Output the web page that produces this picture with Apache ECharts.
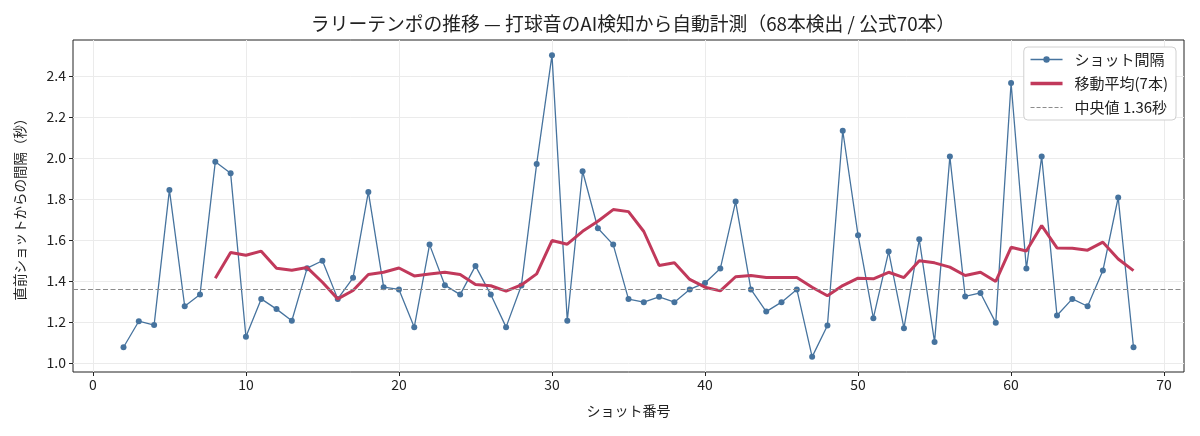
<!DOCTYPE html>
<html>
<head>
<meta charset="utf-8">
<script src="https://cdn.jsdelivr.net/npm/echarts@6/dist/echarts.min.js"></script>
<style>
  html, body { margin: 0; padding: 0; background: #fff; }
  #main { width: 1200px; height: 436px; }
</style>
</head>
<body>
<div id="main"></div>
<script>
// shot number -> interval since previous shot (s)
var shots = [2, 3, 4, 5, 6, 7, 8, 9, 10, 11, 12, 13, 14, 15, 16, 17, 18, 19, 20, 21, 22, 23, 24, 25, 26, 27, 28, 29, 30, 31, 32, 33, 34, 35,
  36, 37, 38, 39, 40, 41, 42, 43, 44, 45, 46, 47, 48, 49, 50, 51, 52, 53, 54, 55, 56, 57, 58, 59, 60, 61, 62, 63, 64, 65, 66, 67, 68];
var intervals = [1.076, 1.203, 1.184, 1.844, 1.276, 1.333, 1.982, 1.925, 1.127, 1.312, 1.262, 1.205, 1.462, 1.498, 1.312, 1.415, 1.834,
  1.369, 1.358, 1.174, 1.577, 1.379, 1.333, 1.473, 1.333, 1.174, 1.377, 1.971, 2.502, 1.205, 1.935, 1.657, 1.577, 1.311,
  1.296, 1.322, 1.296, 1.358, 1.390, 1.460, 1.787, 1.358, 1.250, 1.296, 1.358, 1.029, 1.182, 2.133, 1.623, 1.218, 1.543,
  1.169, 1.603, 1.101, 2.007, 1.324, 1.341, 1.195, 2.366, 1.460, 2.007, 1.231, 1.312, 1.276, 1.450, 1.807, 1.076];

// 7-shot moving average, shots 8..68
var maShots = [8, 9, 10, 11, 12, 13, 14, 15, 16, 17, 18, 19, 20, 21, 22, 23, 24, 25, 26, 27, 28, 29, 30, 31, 32, 33, 34, 35,
  36, 37, 38, 39, 40, 41, 42, 43, 44, 45, 46, 47, 48, 49, 50, 51, 52, 53, 54, 55, 56, 57, 58, 59, 60, 61, 62, 63, 64, 65, 66, 67, 68];
var movingAvg = [1.413, 1.538, 1.525, 1.545, 1.462, 1.452, 1.465, 1.393, 1.312, 1.353, 1.431, 1.442, 1.463, 1.424, 1.434, 1.442,
  1.431, 1.382, 1.376, 1.350, 1.380, 1.434, 1.597, 1.579, 1.642, 1.691, 1.748, 1.738, 1.641, 1.475, 1.488, 1.407, 1.369,
  1.351, 1.420, 1.426, 1.416, 1.416, 1.416, 1.369, 1.327, 1.377, 1.413, 1.410, 1.442, 1.416, 1.498, 1.488, 1.467, 1.426,
  1.442, 1.397, 1.564, 1.546, 1.670, 1.561, 1.559, 1.550, 1.589, 1.507, 1.450];

var median = 1.36;
var xTicks = [0, 10, 20, 30, 40, 50, 60, 70];
var yTicks = [1.0, 1.2, 1.4, 1.6, 1.8, 2.0, 2.2, 2.4];

var font = "'Noto Sans CJK JP', 'Noto Sans', sans-serif";
var blue = '#46739e';
var red = '#c1395b';
var grey = '#8c8c8c';

var chart = echarts.init(document.getElementById('main'));

var option = {
  animation: false,
  textStyle: { fontFamily: font },
  title: {
    text: 'ラリーテンポの推移 — 打球音のAI検知から自動計測（68本検出 / 公式70本）',
    left: 628,
    textAlign: 'center',
    top: 9,
    textStyle: { fontFamily: font, fontSize: 18.8, fontWeight: 'normal', color: '#222' }
  },
  legend: {
    orient: 'vertical',
    right: 24,
    top: 47,
    itemWidth: 32,
    itemHeight: 8,
    itemGap: 9,
    padding: [5, 8, 5, 5],
    backgroundColor: '#fff',
    borderColor: '#d0d0d0',
    borderWidth: 1,
    borderRadius: 4,
    textStyle: { fontFamily: font, fontSize: 15, color: '#222', padding: [0, 0, 0, 7] },
    data: [
      { name: 'ショット間隔', lineStyle: { width: 1.3 } },
      { name: '移動平均(7本)', lineStyle: { width: 3.5 }, itemStyle: { color: 'rgba(0,0,0,0)', borderWidth: 0, opacity: 0 } },
      { name: '中央値 1.36秒', lineStyle: { width: 1 }, itemStyle: { color: 'rgba(0,0,0,0)', borderWidth: 0, opacity: 0 } }
    ]
  },
  grid: {
    left: 73,
    right: 16,
    top: 40,
    bottom: 64,
    show: true,
    borderColor: '#222',
    borderWidth: 1,
    backgroundColor: '#fff'
  },
  xAxis: {
    type: 'value',
    min: -1.3,
    max: 71.3,
    name: 'ショット番号',
    nameLocation: 'middle',
    nameGap: 32,
    nameTextStyle: { fontFamily: font, fontSize: 14, color: '#222' },
    axisLine: { show: false, onZero: false },
    axisTick: { show: true, length: 4, lineStyle: { color: '#222' }, customValues: xTicks },
    axisLabel: { customValues: xTicks, fontSize: 14, color: '#222', margin: 6 },
    splitLine: { show: true, lineStyle: { color: '#ebebeb', width: 1 } }
  },
  yAxis: {
    type: 'value',
    min: 0.955,
    max: 2.576,
    name: '直前ショットからの間隔（秒）',
    nameLocation: 'middle',
    nameRotate: 90,
    nameGap: 46,
    nameTextStyle: { fontFamily: font, fontSize: 13.5, color: '#222' },
    axisLine: { show: false, onZero: false },
    axisTick: { show: true, length: 4, lineStyle: { color: '#222' }, customValues: yTicks },
    axisLabel: {
      customValues: yTicks, fontSize: 14, color: '#222', margin: 7,
      formatter: function (v) { return v.toFixed(1); }
    },
    splitLine: { show: true, lineStyle: { color: '#ebebeb', width: 1 } }
  },
  series: [
    {
      name: 'ショット間隔',
      type: 'line',
      data: shots.map(function (s, i) { return [s, intervals[i]]; }),
      symbol: 'circle',
      symbolSize: 6,
      showAllSymbol: true,
      itemStyle: { color: blue },
      lineStyle: { color: blue, width: 1.3 },
      z: 2
    },
    {
      name: '移動平均(7本)',
      type: 'line',
      data: maShots.map(function (s, i) { return [s, movingAvg[i]]; }),
      symbol: 'none',
      itemStyle: { color: red },
      lineStyle: { color: red, width: 3 },
      z: 3
    },
    {
      name: '中央値 1.36秒',
      type: 'line',
      data: [],
      symbol: 'none',
      itemStyle: { color: grey },
      lineStyle: { color: grey, width: 1, type: [4, 2] },
      markLine: {
        silent: true,
        symbol: 'none',
        label: { show: false },
        lineStyle: { color: grey, width: 1, type: [5, 2.5] },
        data: [{ yAxis: median }]
      },
      z: 1
    }
  ]
};

chart.setOption(option);
window.onresize = function () {
  chart.resize();
};
</script>
</body>
</html>
